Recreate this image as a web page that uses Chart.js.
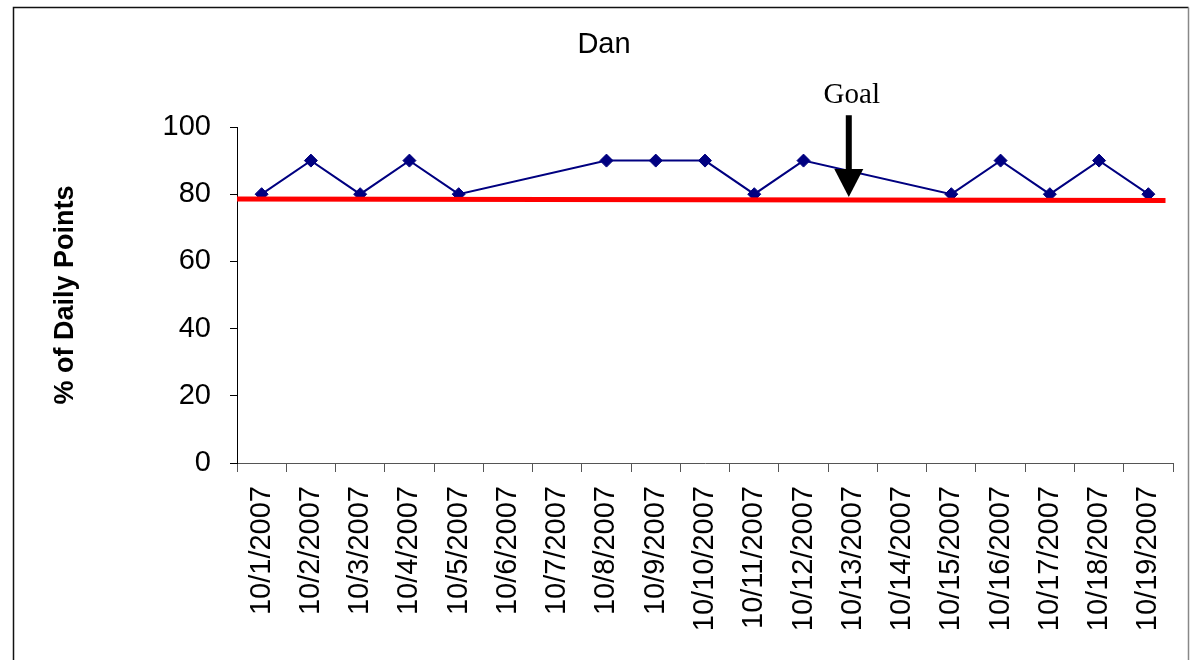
<!DOCTYPE html>
<html>
<head>
<meta charset="utf-8">
<script src="https://cdn.jsdelivr.net/npm/chart.js@4/dist/chart.umd.min.js"></script>
<style>
  html, body { margin: 0; padding: 0; background: #fff; }
  canvas { display: block; }
</style>
</head>
<body>
<canvas id="c" width="1192" height="660"></canvas>
<script>
// ---- data ----
const categories = ['10/1/2007','10/2/2007','10/3/2007','10/4/2007','10/5/2007','10/6/2007','10/7/2007','10/8/2007','10/9/2007','10/10/2007','10/11/2007','10/12/2007','10/13/2007','10/14/2007','10/15/2007','10/16/2007','10/17/2007','10/18/2007','10/19/2007'];
const danValues = [80, 90, 80, 90, 80, null, null, 90, 90, 90, 80, 90, null, null, 80, 90, 80, 90, 80];
const yTicks = [0, 20, 40, 60, 80, 100];
const goalLineX = [0, 0.992];        // fraction of the plot width
const goalLineY = [78.6, 78.1];      // goal line values
const goalArrowCategory = '10/13/2007';
const goalArrowTop = 103.5;          // value at top of arrow shaft
const goalArrowTip = 79.2;           // value at the arrow tip
const goalLabel = 'Goal';

const FONT = "'Liberation Sans', Arial, sans-serif";

const framePlugin = {
  id: 'frame',
  beforeDraw(chart) {
    const ctx = chart.ctx;
    ctx.save();
    ctx.fillStyle = '#fff';
    ctx.fillRect(0, 0, chart.width, chart.height);
    ctx.lineWidth = 1.5;
    ctx.strokeStyle = '#111';
    ctx.beginPath();
    ctx.moveTo(13.5, chart.height);
    ctx.lineTo(13.5, 7.5);
    ctx.lineTo(1188.5, 7.5);
    ctx.stroke();
    ctx.strokeStyle = '#888';
    ctx.beginPath();
    ctx.moveTo(1188.5, 7.5);
    ctx.lineTo(1188.5, chart.height);
    ctx.stroke();
    ctx.restore();
  }
};

const arrowPlugin = {
  id: 'goalArrow',
  afterDatasetsDraw(chart) {
    const ctx = chart.ctx;
    const xs = chart.scales.x, ys = chart.scales.y;
    const x = xs.getPixelForValue(categories.indexOf(goalArrowCategory)) - 4;
    const yTop = ys.getPixelForValue(goalArrowTop);
    const yTip = ys.getPixelForValue(goalArrowTip);
    const headLen = 28, headHalf = 14.5, shaftHalf = 3;
    ctx.save();
    ctx.fillStyle = '#000';
    ctx.fillRect(x - shaftHalf, yTop, shaftHalf * 2, (yTip - headLen) - yTop + 1);
    ctx.beginPath();
    ctx.moveTo(x - headHalf, yTip - headLen);
    ctx.lineTo(x + headHalf, yTip - headLen);
    ctx.lineTo(x, yTip);
    ctx.closePath();
    ctx.fill();
    ctx.font = "29px 'Liberation Serif', 'Times New Roman', serif";
    ctx.textAlign = 'center';
    ctx.textBaseline = 'alphabetic';
    ctx.fillText(goalLabel, x + 3, yTop - 12);
    ctx.restore();
  }
};

new Chart(document.getElementById('c'), {
  type: 'line',
  data: {
    labels: categories,
    datasets: [
      {
        label: 'Goal',
        data: goalLineX.map((v, i) => ({ x: v, y: goalLineY[i] })),
        xAxisID: 'x2',
        borderColor: '#ff0000',
        borderWidth: 5,
        pointRadius: 0,
        fill: false,
        order: 0
      },
      {
        label: 'Dan',
        data: danValues,
        xAxisID: 'x',
        spanGaps: true,
        borderColor: '#000080',
        borderWidth: 2,
        pointStyle: 'rectRot',
        pointRadius: 6.5,
        pointBackgroundColor: '#000080',
        pointBorderColor: '#000080',
        pointBorderWidth: 1,
        tension: 0,
        fill: false,
        order: 1
      }
    ]
  },
  options: {
    responsive: false,
    animation: false,
    devicePixelRatio: 1,
    layout: { padding: { left: 35, right: 19, top: 0, bottom: 0 } },
    plugins: {
      legend: { display: false },
      tooltip: { enabled: false },
      title: {
        display: true,
        text: 'Dan',
        color: '#000',
        font: { family: FONT, size: 29, weight: 'normal', lineHeight: 1.2 },
        padding: { top: 28, bottom: 64.2 }
      }
    },
    scales: {
      x: {
        type: 'category',
        offset: true,
        grid: { display: true, offset: true, drawOnChartArea: false, drawTicks: true, tickLength: 9, color: '#555' },
        border: { display: true, color: '#555', width: 1 },
        ticks: {
          color: '#000',
          font: { family: FONT, size: 29 },
          minRotation: 90, maxRotation: 90,
          autoSkip: false,
          padding: 14
        },
        afterFit(scale) { scale.height = 197; scale.paddingLeft = 0; scale.paddingRight = 0; }
      },
      x2: {
        type: 'linear',
        display: false,
        min: 0, max: 1,
        offset: false
      },
      y: {
        min: 0, max: 100,
        afterBuildTicks(scale) { scale.ticks = yTicks.map(v => ({ value: v })); },
        grid: { display: true, drawOnChartArea: false, drawTicks: true, tickLength: 7, color: '#000' },
        border: { display: true, color: '#000', width: 1 },
        ticks: {
          color: '#000',
          font: { family: FONT, size: 29 },
          padding: 19
        },
        title: {
          display: true,
          text: '% of Daily Points',
          color: '#000',
          font: { family: FONT, size: 27, weight: 'bold', lineHeight: 1.2 },
          padding: { top: 14, bottom: 0 }
        },
        afterFit(scale) { scale.width = 202; scale.paddingTop = 0; scale.paddingBottom = 0; }
      }
    }
  },
  plugins: [framePlugin, arrowPlugin]
});
</script>
</body>
</html>
